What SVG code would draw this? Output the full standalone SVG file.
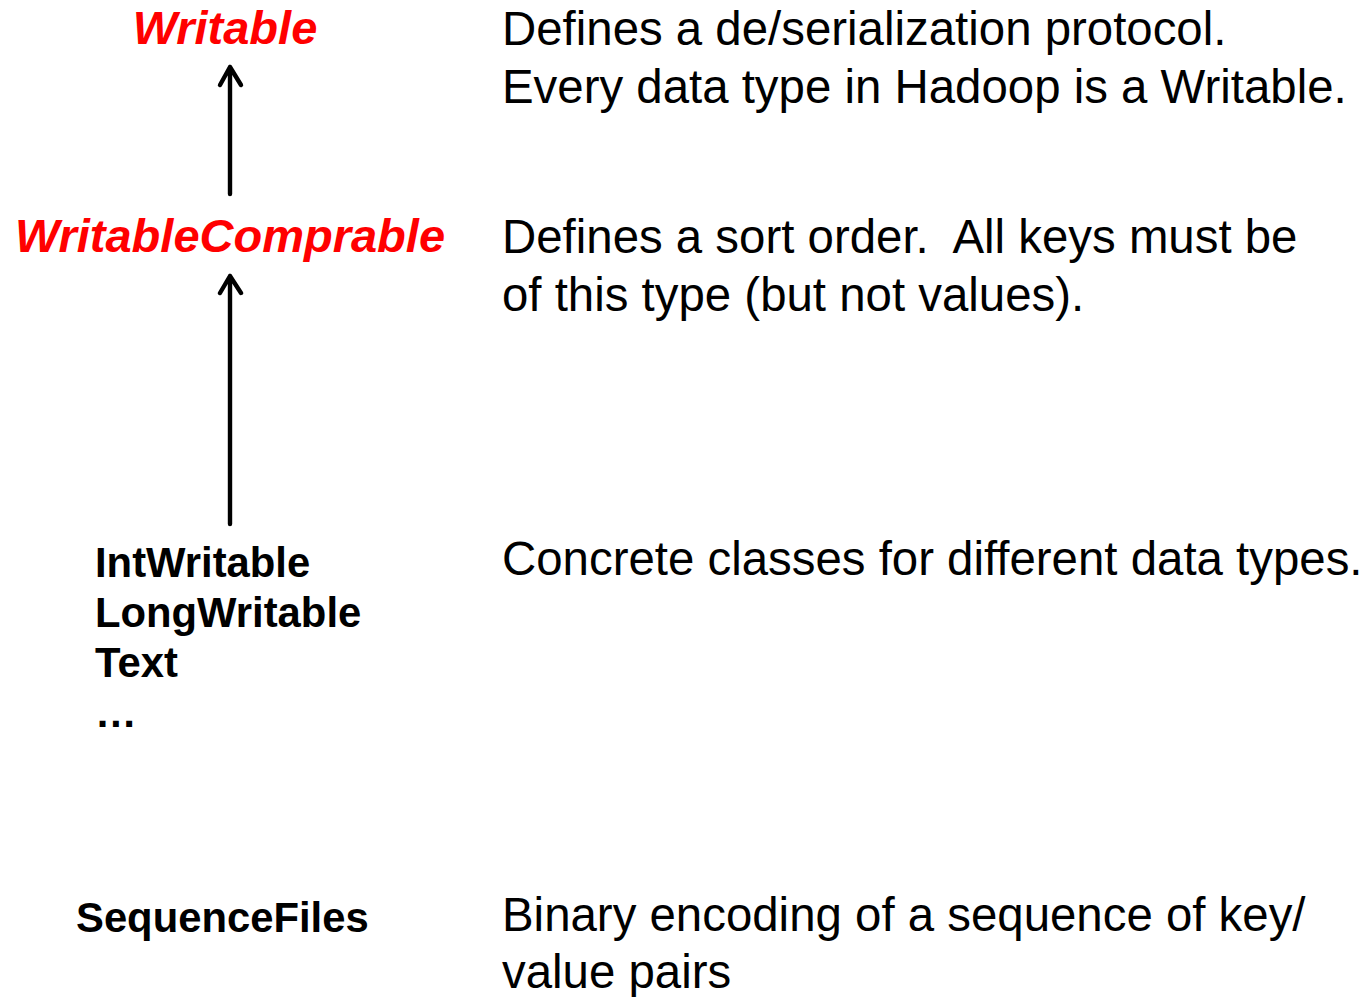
<svg xmlns="http://www.w3.org/2000/svg" width="1368" height="997" viewBox="0 0 1368 997">
<style>
.red{font-family:"Liberation Sans",Arial,sans-serif;font-weight:bold;font-style:italic;font-size:47px;fill:#ff0000}
.cls{font-family:"Liberation Sans",Arial,sans-serif;font-weight:bold;font-size:41.8px;fill:#000}
.desc{font-family:"Liberation Sans",Arial,sans-serif;font-size:47.4px;fill:#000;white-space:pre}
.conn{fill:none;stroke:#000;stroke-width:4.4;stroke-linecap:round;stroke-linejoin:round}
</style>
<rect width="1368" height="997" fill="#fff"/>
<g id="connectors">
<path class="conn" d="M230,194 V67 M220,85 L230,67 L241,85"/>
<path class="conn" d="M230,524 V276 M220,293 L230,276 L241,293"/>
</g>
<g id="writable">
<text class="red" x="225" y="44" text-anchor="middle">Writable</text>
<text class="desc" x="502" y="45">Defines a de/serialization protocol.</text>
<text class="desc" x="502" y="103">Every data type in Hadoop is a Writable.</text>
</g>
<g id="writablecomparable">
<text class="red" x="230" y="252" text-anchor="middle">WritableComprable</text>
<text class="desc" x="502" y="253" xml:space="preserve">Defines a sort order.  All keys must be</text>
<text class="desc" x="502" y="311">of this type (but not values).</text>
</g>
<g id="concrete">
<text class="cls" x="95" y="577">IntWritable</text>
<text class="cls" x="95" y="627">LongWritable</text>
<text class="cls" x="95" y="677">Text</text>
<text class="cls" x="95" y="727">…</text>
<text class="desc" x="502" y="575">Concrete classes for different data types.</text>
</g>
<g id="sequencefiles">
<text class="cls" x="76" y="932">SequenceFiles</text>
<text class="desc" x="502" y="931">Binary encoding of a sequence of key/</text>
<text class="desc" x="502" y="988">value pairs</text>
</g>
</svg>
